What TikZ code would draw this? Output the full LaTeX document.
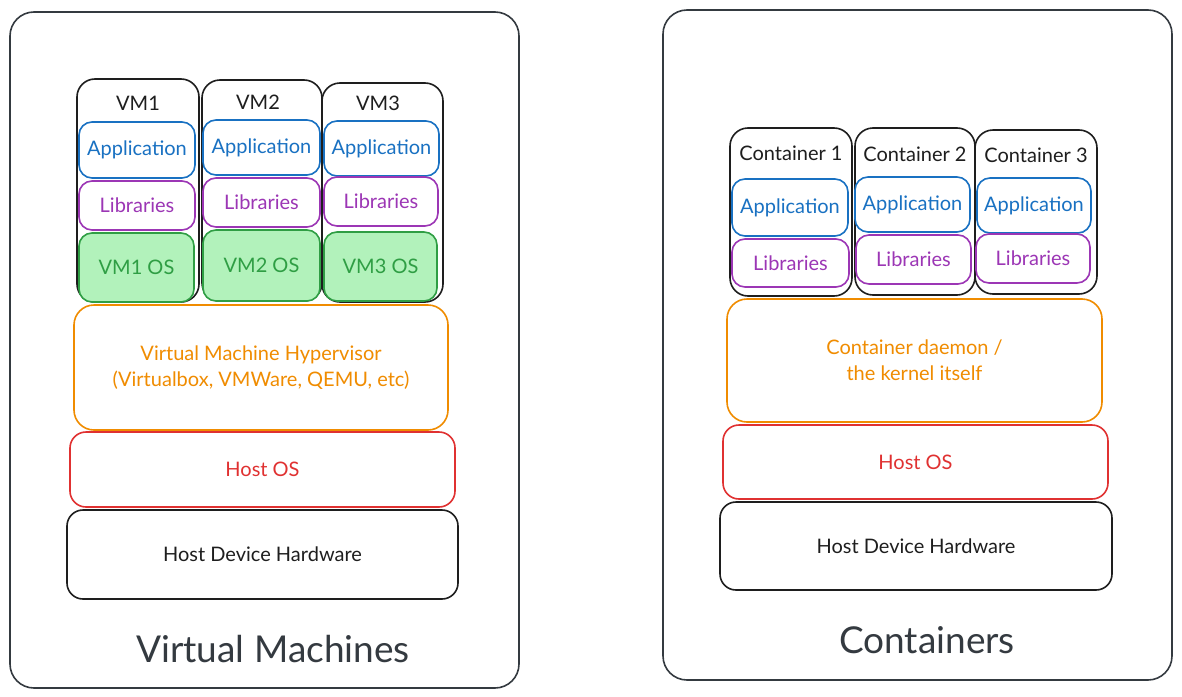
\documentclass[tikz,border=0pt]{standalone}
\usepackage{fontspec}
\setmainfont{Lato}
\usetikzlibrary{positioning}
\definecolor{inkdark}{HTML}{1E1E1E}
\definecolor{titlegray}{HTML}{343A40}
\definecolor{appblue}{HTML}{1971C2}
\definecolor{libpurple}{HTML}{9C36B5}
\definecolor{osgreen}{HTML}{2F9E44}
\definecolor{osfill}{HTML}{B2F2BB}
\definecolor{hvorange}{HTML}{F08C00}
\definecolor{hostred}{HTML}{E03131}
\newcommand{\boxnode}[7]{%
  \node[#6, minimum width={(#4-#2)*1pt}, minimum height={(#5-#3)*1pt}] (#1) at ({(#2+#4)/2},{(#3+#5)/2}) {#7};}
\tikzset{
  layer/.style={draw, fill=white, rounded corners=13pt, line width=1.6pt, inner sep=0pt, align=center,
    font=\fontsize{20}{26}\selectfont},
  outerbox/.style={draw=titlegray, fill=white, rounded corners=24pt, line width=1.6pt, inner sep=0pt},
  unitbox/.style={layer, draw=inkdark, rounded corners=18pt},
  appbox/.style={layer, draw=appblue, text=appblue},
  libbox/.style={layer, draw=libpurple, text=libpurple},
  osbox/.style={layer, draw=osgreen, fill=osfill, text=osgreen},
  hvbox/.style={layer, draw=hvorange, text=hvorange, rounded corners=20pt},
  hostbox/.style={layer, draw=hostred, text=hostred, rounded corners=16pt},
  hwbox/.style={layer, draw=inkdark, text=inkdark, rounded corners=16pt},
  unitlabel/.style={font=\fontsize{20}{24}\selectfont, text=inkdark, inner sep=0pt},
  title/.style={font=\fontsize{37}{44}\selectfont, text=titlegray, inner sep=0pt}
}
\begin{document}
\begin{tikzpicture}[x=1pt, y=-1pt]
  \useasboundingbox (0,0) rectangle (1182,696);

  % virtual machines side
  \boxnode{vmside}{10}{12}{519}{688}{outerbox}{}
  \boxnode{vm1}{77}{79}{199}{302}{unitbox}{}
  \boxnode{vm2}{202}{80}{322}{301}{unitbox}{}
  \boxnode{vm3}{322}{83}{443}{302}{unitbox}{}
  \node[unitlabel] (vm1t) at (138,103) {VM1};
  \node[unitlabel] (vm2t) at (258,102) {VM2};
  \node[unitlabel] (vm3t) at (378,103) {VM3};
  \boxnode{vm1app}{79}{122}{195}{178}{appbox}{Application}
  \boxnode{vm2app}{203}{120}{320}{175}{appbox}{Application}
  \boxnode{vm3app}{324}{121}{439}{176}{appbox}{Application}
  \boxnode{vm1lib}{79}{181}{195}{230}{libbox}{Libraries}
  \boxnode{vm2lib}{203}{178}{320}{227}{libbox}{Libraries}
  \boxnode{vm3lib}{324}{177}{438}{226}{libbox}{Libraries}
  \boxnode{vm1os}{79}{233}{194}{302}{osbox}{VM1 OS}
  \boxnode{vm2os}{203}{230}{320}{301}{osbox}{VM2 OS}
  \boxnode{vm3os}{324}{232}{437}{301}{osbox}{VM3 OS}
  \boxnode{hyper}{74}{305}{448}{430}{hvbox}{Virtual Machine Hypervisor\\(Virtualbox, VMWare, QEMU, etc)}
  \boxnode{vmhost}{70}{432}{455}{507}{hostbox}{Host OS}
  \boxnode{vmhw}{67}{510}{458}{599}{hwbox}{Host Device Hardware}
  \node[title] (vmtitle) at (273,649) {Virtual Machines};

  % containers side
  \boxnode{ctside}{663}{10}{1172}{680}{outerbox}{}
  \boxnode{ct1}{730}{128}{852}{296}{unitbox}{}
  \boxnode{ct2}{855}{128}{975}{295}{unitbox}{}
  \boxnode{ct3}{975}{130}{1097}{294}{unitbox}{}
  \node[unitlabel] (ct1t) at (791,153) {Container 1};
  \node[unitlabel] (ct2t) at (915,154) {Container 2};
  \node[unitlabel] (ct3t) at (1036,155) {Container 3};
  \boxnode{ct1app}{732}{179}{848}{236}{appbox}{Application}
  \boxnode{ct2app}{855}{177}{970}{232}{appbox}{Application}
  \boxnode{ct3app}{977}{178}{1091}{233}{appbox}{Application}
  \boxnode{ct1lib}{732}{239}{849}{287}{libbox}{Libraries}
  \boxnode{ct2lib}{856}{235}{971}{284}{libbox}{Libraries}
  \boxnode{ct3lib}{976}{234}{1090}{283}{libbox}{Libraries}
  \boxnode{daemon}{727}{299}{1102}{422}{hvbox}{Container daemon /\\the kernel itself}
  \boxnode{cthost}{723}{425}{1108}{499}{hostbox}{Host OS}
  \boxnode{cthw}{720}{502}{1112}{590}{hwbox}{Host Device Hardware}
  \node[title] (cttitle) at (927,640) {Containers};
\end{tikzpicture}
\end{document}
